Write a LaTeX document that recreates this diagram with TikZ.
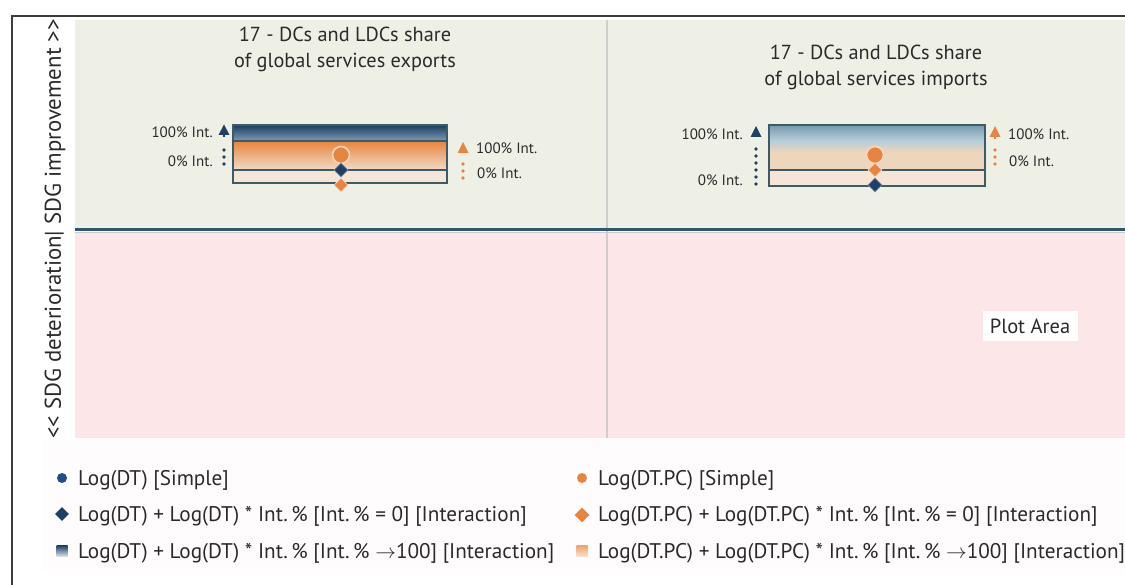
\documentclass[tikz,border=0pt]{standalone}
\usepackage{fontspec}
\setmainfont{PT Sans}
\usetikzlibrary{shapes.geometric}

\definecolor{framegray}{HTML}{3C3C3C}
\definecolor{panelgreen}{HTML}{EEF0E6}
\definecolor{panelpink}{HTML}{FCE6E8}
\definecolor{legendbg}{HTML}{FFFCFD}
\definecolor{divider}{HTML}{CFCCCB}
\definecolor{sepblue}{HTML}{2F5775}
\definecolor{navy}{HTML}{1C3D60}
\definecolor{bandblue}{HTML}{7C9DB5}
\definecolor{skylight}{HTML}{B3CDD8}
\definecolor{orangetop}{HTML}{E8843F}
\definecolor{orangelow}{HTML}{F1DCC7}
\definecolor{sand}{HTML}{EDD6BC}
\definecolor{beige}{HTML}{F4E5D6}
\definecolor{boxline}{HTML}{3E5A66}
\definecolor{mkorange}{HTML}{E8843F}
\definecolor{mkhalo}{HTML}{F6D8BC}
\definecolor{mkblue}{HTML}{1E3F66}
\definecolor{legblue}{HTML}{1F4C8A}
\definecolor{txt}{HTML}{2A2A2A}

\pgfdeclareverticalshading{importsband}{100bp}{%
  color(0bp)=(sand); color(45bp)=(sand); color(58bp)=(skylight);
  color(80bp)=(bandblue!80!navy); color(100bp)=(navy)}

\tikzset{
  title/.style={font=\fontsize{20.3}{26}\selectfont, text=txt, align=center},
  small/.style={font=\fontsize{15}{17}\selectfont, text=txt, inner sep=0pt},
  legend/.style={font=\fontsize{21.2}{23}\selectfont, text=txt, anchor=west, inner sep=0pt},
  simplemk/.style={circle, fill=mkorange, draw=mkhalo, line width=1.6pt, minimum size=17pt, inner sep=0pt},
  bluedia/.style={diamond, fill=mkblue, draw=mkblue!60!white, line width=0.6pt, minimum size=14pt, inner sep=0pt},
  orangedia/.style={diamond, fill=mkorange, draw=mkhalo, line width=0.6pt, minimum size=14pt, inner sep=0pt},
  boxframe/.style={draw=boxline, line width=1.3pt},
  bluedots/.style={mkblue, line width=3.8pt, line cap=round, dash pattern=on 0pt off 7pt},
  orangedots/.style={mkorange, line width=3.8pt, line cap=round, dash pattern=on 0pt off 7pt},
}

\begin{document}
\begin{tikzpicture}[x=1pt,y=-1pt]
\useasboundingbox (0,0) rectangle (1125,585);
\fill[white] (0,0) rectangle (1125,585);

% chart background: improvement zone, deterioration zone, legend strip
\fill[panelgreen] (75,20) rectangle (1125,229);
\fill[panelpink] (75,232) rectangle (1125,438);
\fill[legendbg] (42,441) rectangle (1125,570);
\draw[divider, line width=1.5pt] (607,20) -- (607,438);
\draw[sepblue, line width=3pt] (75,229.5) -- (1125,229.5);
\draw[sepblue!30, line width=1pt] (75,232.5) -- (1125,232.5);

% outer frame
\draw[framegray, line width=1.2pt] (12,585) -- (12,16) -- (1125,16);

% vertical axis caption
\node[rotate=90, font=\fontsize{22.8}{24}\selectfont, text=txt] (yaxis) at (55,229)
  {<{}< SDG deterioration| SDG improvement >{}>};

% panel titles
\node[title] (t1) at (345,49) {17 - DCs and LDCs share\\of global services exports};
\node[title] (t2) at (876,67) {17 - DCs and LDCs share\\of global services imports};

% ---------- exports panel ----------
\shade[top color=navy, bottom color=bandblue] (233,125) rectangle (447,141);
\shade[top color=orangetop, bottom color=orangelow] (233,141) rectangle (447,170);
\fill[beige] (233,170) rectangle (447,183);
\draw[boxframe] (233,141) -- (447,141);
\draw[boxframe] (233,170) -- (447,170);
\draw[boxframe] (233,125) rectangle (447,183);

\node[simplemk] (e-simple) at (341,155) {};
\node[bluedia] (e-dt) at (341,170) {};
\node[orangedia] (e-pc) at (341,185) {};

% blue scale (left)
\coordinate (e-b0) at (224,164);
\coordinate (e-b1) at (224,143);
\draw[bluedots] (e-b0) -- (e-b1);
\fill[mkblue] (224,124.5) -- (229.5,135) -- (218.5,135) -- cycle;
\draw[mkblue, line width=2.5pt] (224,134) -- (224,137);
\node[small, anchor=east] (e-b100) at (213,132) {100\% Int.};
\node[small, anchor=east] (e-b0l) at (213,161) {0\% Int.};

% orange scale (right)
\coordinate (e-o0) at (463,178);
\coordinate (e-o1) at (463,157);
\draw[orangedots] (e-o0) -- (e-o1);
\fill[mkorange] (463,142) -- (468.5,153) -- (457.5,153) -- cycle;
\node[small, anchor=west] (e-o100) at (476,148) {100\% Int.};
\node[small, anchor=west] (e-o0l) at (477,173) {0\% Int.};

% ---------- imports panel ----------
\shade[shading=importsband] (769,125) rectangle (985,170);
\fill[beige] (769,170) rectangle (985,186);
\draw[boxframe] (769,170) -- (985,170);
\draw[boxframe] (769,125) rectangle (985,186);

\node[simplemk] (i-simple) at (875,155) {};
\node[orangedia] (i-pc) at (875,170) {};
\node[bluedia] (i-dt) at (875,185) {};

% blue scale (left)
\coordinate (i-b0) at (756,184);
\coordinate (i-b1) at (756,142);
\draw[bluedots] (i-b0) -- (i-b1);
\fill[mkblue] (756,126) -- (761.5,137) -- (750.5,137) -- cycle;
\node[small, anchor=east] (i-b100) at (743,134) {100\% Int.};
\node[small, anchor=east] (i-b0l) at (743,180) {0\% Int.};

% orange scale (right)
\coordinate (i-o0) at (995,164);
\coordinate (i-o1) at (995,143);
\draw[orangedots] (i-o0) -- (i-o1);
\fill[mkorange] (995,126) -- (1000.5,137) -- (989.5,137) -- cycle;
\draw[mkorange, line width=2.5pt] (995,136) -- (995,139);
\node[small, anchor=west] (i-o100) at (1008,134) {100\% Int.};
\node[small, anchor=west] (i-o0l) at (1009,161) {0\% Int.};

% plot area tag
\node[fill=white, font=\fontsize{20.5}{22}\selectfont, text=txt, minimum width=95pt, minimum height=30pt, inner sep=0pt] (plotarea) at (1030,326) {Plot Area};

% ---------- legend ----------
\fill[legblue] (62,478) circle (5pt);
\node[diamond, fill=mkblue, minimum size=14pt, inner sep=0pt] (lg-dia1) at (62,514) {};
\shade[top color=navy!80!legblue, bottom color=navy!15] (56.5,545.5) rectangle (67.5,556.5);
\node[legend] (lg1) at (78,480) {Log(DT) [Simple]};
\node[legend] (lg2) at (78,516) {Log(DT) + Log(DT) * Int.\,\% [Int.\,\% = 0] [Interaction]};
\node[legend] (lg3) at (78,553) {Log(DT) + Log(DT) * Int.\,\% [Int.\,\% $\rightarrow$100] [Interaction]};

\fill[mkorange] (582,478) circle (5pt);
\node[diamond, fill=mkorange, minimum size=15pt, inner sep=0pt] (lg-dia2) at (582,515) {};
\shade[top color=mkorange!75, bottom color=mkorange!25] (576.5,545.5) rectangle (587.5,556.5);
\node[legend] (lg4) at (598,480) {Log(DT.PC) [Simple]};
\node[legend] (lg5) at (598,516) {Log(DT.PC) + Log(DT.PC) * Int.\,\% [Int.\,\% = 0] [Interaction]};
\node[legend] (lg6) at (598,553) {Log(DT.PC) + Log(DT.PC) * Int.\,\% [Int.\,\% $\rightarrow$100] [Interaction]};
\end{tikzpicture}
\end{document}
